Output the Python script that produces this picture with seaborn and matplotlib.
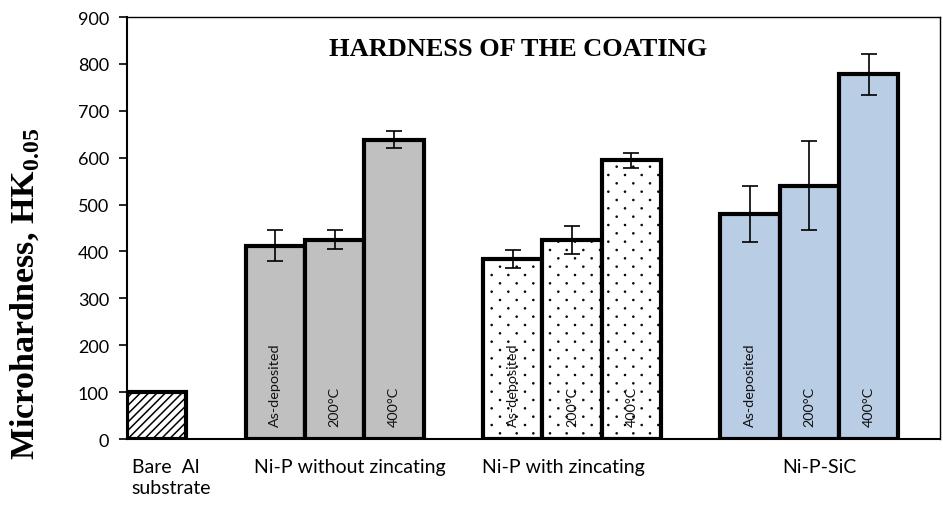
import matplotlib
matplotlib.use("Agg")
import matplotlib.pyplot as plt
import matplotlib.hatch as mhatch
from matplotlib.path import Path
import seaborn as sns
import pandas as pd
import numpy as np

# ---- data ----
groups = ["Bare  Al\nsubstrate", "Ni-P without zincating", "Ni-P with zincating", "Ni-P-SiC"]
conditions = ["As-deposited", "200°C", "400°C"]
bare_value = [100]
bare_err = [0]
nip_values = [412, 425, 638]
nip_err = [33, 20, 18]
zinc_values = [384, 424, 594]
zinc_err = [20, 30, 17]
sic_values = [480, 540, 778]
sic_err = [60, 95, 44]
yticks = [0, 100, 200, 300, 400, 500, 600, 700, 800, 900]
title = "HARDNESS OF THE COATING"
ylabel = r"Microhardness, HK$_\mathbf{0.05}$"


# sparse staggered dot hatch (rows twice as dense as columns), replaces '.'
class SparseDots(mhatch.HatchPatternBase):
    def __init__(self, hatch, density):
        n = hatch.count('.')
        self.rows = 12 * n
        self.cols = 6 * n
        circ = Path.unit_circle()
        self.sv = circ.vertices
        self.sc = circ.codes
        self.centers = []
        if n:
            for r in range(self.rows + 1):
                y = r / self.rows
                if r % 2 == 0:
                    xs = np.linspace(0, 1, self.cols + 1)
                else:
                    xs = np.linspace(0.5 / self.cols, 1 - 0.5 / self.cols, self.cols)
                for x in xs:
                    self.centers.append((x, y))
        self.num_vertices = len(self.centers) * len(self.sv)

    def set_vertices_and_codes(self, vertices, codes):
        k = len(self.sv)
        rad = 0.005
        for i, (x, y) in enumerate(self.centers):
            vertices[i * k:(i + 1) * k] = self.sv * rad + np.array([x, y])
            codes[i * k:(i + 1) * k] = self.sc


mhatch._hatch_types = [SparseDots if t is mhatch.SmallFilledCircles else t
                       for t in mhatch._hatch_types]

sns.set_theme(style="white")
plt.rcParams['font.family'] = ['Lato', 'DejaVu Sans']
plt.rcParams['text.color'] = 'black'
plt.rcParams['xtick.color'] = 'black'
plt.rcParams['ytick.color'] = 'black'
plt.rcParams['axes.labelcolor'] = 'black'
plt.rcParams['mathtext.fontset'] = 'custom'
plt.rcParams['mathtext.rm'] = 'Liberation Serif'
plt.rcParams['mathtext.bf'] = 'Liberation Serif:bold'
plt.rcParams['hatch.linewidth'] = 1.1

rows = [dict(slot="bare", group=groups[0], cond="", value=bare_value[0], err=bare_err[0])]
for g, vals, errs in [(groups[1], nip_values, nip_err), (groups[2], zinc_values, zinc_err), (groups[3], sic_values, sic_err)]:
    for c, v, e in zip(conditions, vals, errs):
        rows.append(dict(slot=g + "|" + c, group=g, cond=c, value=v, err=e))
df = pd.DataFrame(rows)

order = ["bare", "gap1"] + [groups[1] + "|" + c for c in conditions] + ["gap2"] + \
        [groups[2] + "|" + c for c in conditions] + ["gap3"] + [groups[3] + "|" + c for c in conditions]

palette = {groups[0]: "white", groups[1]: "#C0C0C0", groups[2]: "white", groups[3]: "#B9CDE5"}
hatches = {groups[0]: "////", groups[1]: "", groups[2]: ".", groups[3]: ""}

fig = plt.figure(figsize=(9.43, 5.06), dpi=100)
ax = fig.add_axes([0.1347, 0.1304, 0.862, 0.834])

sns.barplot(data=df, x="slot", y="value", hue="group", order=order, palette=palette,
            dodge=False, width=1.0, edgecolor="black", linewidth=3.0, legend=False,
            errorbar=None, saturation=1, ax=ax, zorder=2)

slot_pos = {s: i for i, s in enumerate(order)}
for p in ax.patches:
    cx = p.get_x() + p.get_width() / 2
    idx = int(round(cx))
    key = order[idx]
    r = df[df.slot == key]
    if len(r):
        h = hatches[r.group.iloc[0]]
        if h:
            p.set_hatch(h)

for _, r in df.iterrows():
    x = slot_pos[r.slot]
    if r.err > 0:
        ax.errorbar(x, r.value, yerr=r.err, fmt="none", ecolor="black",
                    elinewidth=1.2, capsize=5.5, capthick=1.2, zorder=4)
    if r.cond:
        ax.text(x, 28, r.cond, rotation=90, ha="center", va="bottom",
                fontsize=10.4, color="#111111", zorder=5)

ax.set_xlim(-0.5, 13.2)
ax.set_ylim(0, 900)
ax.set_yticks(yticks)
ax.set_yticklabels([str(t) for t in yticks], fontsize=13)
ax.set_xticks([])
ax.set_xlabel("")
ax.set_ylabel("")
ax.tick_params(axis="y", direction="out", length=6, width=1.2, left=True, pad=7)
for s in ["left", "bottom"]:
    ax.spines[s].set_color("black")
    ax.spines[s].set_linewidth(1.5)
for s in ["top", "right"]:
    ax.spines[s].set_color("black")
    ax.spines[s].set_linewidth(1.0)

# group labels
xt = ax.get_xaxis_transform()
ax.text(-0.42, -0.045, groups[0], transform=xt, ha="left", va="top", fontsize=14, linespacing=1.25)
ax.text(3.26, -0.045, groups[1], transform=xt, ha="center", va="top", fontsize=14)
ax.text(6.85, -0.045, groups[2], transform=xt, ha="center", va="top", fontsize=14)
ax.text(11.17, -0.045, groups[3], transform=xt, ha="center", va="top", fontsize=14)

ax.text(0.4815, 0.925, title, transform=ax.transAxes, ha="center", va="center",
        fontsize=19, fontweight="bold", family="Liberation Serif")

fig.text(0.027, 0.419, ylabel, rotation=90, ha="center", va="center",
         fontsize=24.5, fontweight="bold", family="Liberation Serif")

fig.savefig("out.png", dpi=100)
